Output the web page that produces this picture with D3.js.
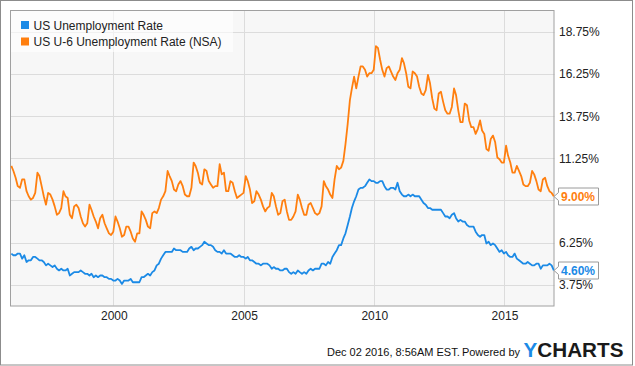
<!DOCTYPE html>
<html>
<head>
<meta charset="utf-8">
<script src="https://cdn.jsdelivr.net/npm/d3@7"></script>
<style>
    body { margin: 0; background: #fff; }
    text { font-family: "Liberation Sans", Arial, sans-serif; }
</style>
</head>
<body>
<svg id="chart" width="635" height="366"></svg>
<script>
const startYear = 1996

// US Unemployment Rate (SA), monthly Jan 1996 - Nov 2016
const unrate = [
    5.6, 5.5, 5.5, 5.6, 5.6, 5.3, 5.5, 5.1, 5.2, 5.2, 5.4, 5.4,
    5.3, 5.2, 5.2, 5.1, 4.9, 5.0, 4.9, 4.8, 4.9, 4.7, 4.6, 4.7,
    4.6, 4.6, 4.7, 4.3, 4.4, 4.5, 4.5, 4.5, 4.6, 4.5, 4.4, 4.4,
    4.3, 4.4, 4.2, 4.3, 4.2, 4.3, 4.3, 4.2, 4.2, 4.1, 4.1, 4.0,
    4.0, 4.1, 4.0, 3.8, 4.0, 4.0, 4.0, 4.1, 3.9, 3.9, 3.9, 3.9,
    4.2, 4.2, 4.3, 4.4, 4.3, 4.5, 4.6, 4.9, 5.0, 5.3, 5.5, 5.7,
    5.7, 5.7, 5.7, 5.9, 5.8, 5.8, 5.8, 5.7, 5.7, 5.7, 5.9, 6.0,
    5.8, 5.9, 5.9, 6.0, 6.1, 6.3, 6.2, 6.1, 6.1, 6.0, 5.8, 5.7,
    5.7, 5.6, 5.8, 5.6, 5.6, 5.6, 5.5, 5.4, 5.4, 5.5, 5.4, 5.4,
    5.3, 5.4, 5.2, 5.2, 5.1, 5.0, 5.0, 4.9, 5.0, 5.0, 5.0, 4.9,
    4.7, 4.8, 4.7, 4.7, 4.6, 4.6, 4.7, 4.7, 4.5, 4.4, 4.5, 4.4,
    4.6, 4.5, 4.4, 4.5, 4.4, 4.6, 4.7, 4.6, 4.7, 4.7, 4.7, 5.0,
    5.0, 4.9, 5.1, 5.0, 5.4, 5.6, 5.8, 6.1, 6.1, 6.5, 6.8, 7.3,
    7.8, 8.3, 8.7, 9.0, 9.4, 9.5, 9.5, 9.6, 9.8, 10.0, 9.9, 9.9,
    9.8, 9.8, 9.9, 9.9, 9.6, 9.4, 9.4, 9.5, 9.5, 9.4, 9.8, 9.3,
    9.1, 9.0, 9.0, 9.1, 9.0, 9.1, 9.0, 9.0, 9.0, 8.8, 8.6, 8.5,
    8.3, 8.3, 8.2, 8.2, 8.2, 8.2, 8.2, 8.0, 7.8, 7.8, 7.7, 7.9,
    8.0, 7.7, 7.5, 7.6, 7.5, 7.5, 7.3, 7.2, 7.2, 7.2, 6.9, 6.7,
    6.6, 6.7, 6.7, 6.2, 6.3, 6.1, 6.2, 6.1, 5.9, 5.7, 5.8, 5.6,
    5.7, 5.5, 5.4, 5.4, 5.6, 5.3, 5.2, 5.1, 5.0, 5.0, 5.1, 5.0,
    4.9, 4.9, 5.0, 5.0, 4.7, 4.9, 4.9, 4.9, 5.0, 4.9, 4.6
]

// US U-6 Unemployment Rate (NSA), monthly Jan 1996 - Nov 2016
const u6nsa = [
    10.8, 10.5, 10.1, 9.6, 9.5, 10.0, 10.0, 9.3, 9.0, 8.8, 8.9, 9.2,
    10.4, 10.2, 9.6, 9.0, 8.5, 9.2, 9.1, 8.8, 8.4, 7.9, 8.0, 8.3,
    9.3, 9.0, 8.9, 7.9, 7.7, 8.4, 8.5, 8.3, 7.8, 7.4, 7.2, 7.4,
    8.5, 8.2, 7.8, 7.5, 7.1, 7.7, 7.9, 7.4, 7.1, 6.8, 6.7, 6.9,
    7.8, 7.5, 7.1, 6.6, 6.7, 7.2, 7.2, 6.9, 6.5, 6.3, 6.8, 6.8,
    8.1, 7.9, 7.6, 7.2, 7.1, 8.0, 8.1, 8.0, 8.3, 8.8, 9.0, 9.3,
    10.5, 10.2, 9.9, 9.4, 9.3, 9.7, 9.9, 9.6, 9.1, 9.0, 9.0, 9.5,
    11.0, 10.8, 10.4, 9.8, 9.7, 10.6, 10.5, 9.9, 9.7, 9.5, 9.6, 9.6,
    10.9, 10.3, 10.4, 9.3, 9.3, 9.9, 9.8, 9.3, 8.9, 9.0, 9.1, 9.2,
    10.2, 9.9, 9.4, 8.6, 8.7, 9.3, 9.1, 8.8, 8.4, 8.1, 8.3, 8.4,
    9.2, 9.0, 8.4, 7.9, 8.0, 8.7, 8.8, 8.1, 7.6, 7.6, 7.8, 8.1,
    9.1, 8.8, 8.3, 7.9, 7.9, 8.5, 8.6, 8.3, 8.0, 7.9, 8.0, 8.4,
    9.9, 9.6, 9.4, 9.1, 8.9, 10.0, 10.8, 10.6, 10.7, 11.1, 12.1, 13.3,
    14.7, 15.4, 16.1, 15.4, 16.1, 16.7, 16.7, 16.5, 16.1, 16.3, 16.3, 16.5,
    17.9, 17.8, 17.1, 16.5, 16.1, 16.6, 16.7, 16.4, 16.1, 15.9, 16.3, 16.5,
    17.2, 16.9, 16.3, 15.5, 15.4, 16.4, 16.3, 16.1, 15.5, 15.1, 15.0, 15.3,
    16.2, 15.7, 14.8, 14.2, 14.1, 15.1, 15.2, 14.6, 14.1, 13.9, 13.9, 14.3,
    15.4, 15.0, 14.1, 13.4, 13.4, 14.5, 14.4, 13.5, 13.1, 13.1, 12.7, 13.0,
    13.5, 12.9, 12.7, 11.8, 11.7, 12.4, 12.6, 12.2, 11.3, 11.2, 11.0, 11.0,
    12.0, 11.4, 11.0, 10.4, 10.4, 10.8, 10.5, 10.2, 9.7, 9.6, 9.6, 9.8,
    10.5, 10.3, 9.9, 9.4, 9.3, 10.0, 10.1, 9.6, 9.3, 9.2, 9.0
]

const seriesNames = ["US Unemployment Rate", "US U-6 Unemployment Rate (NSA)"]
const yTicks = [3.75, 6.25, 8.75, 11.25, 13.75, 16.25, 18.75]
// 8.75% sits under the 9.00% value box, so it gets a grid line but no label
const yTickLabels = [3.75, 6.25, 11.25, 13.75, 16.25, 18.75]
const xTickYears = [2000, 2005, 2010, 2015]

const blue = "#1b8ae6"
const orange = "#ff7f0f"
const gridColor = "#dcdcdc"

const width = 635,
    height = 366
const plot = { left: 10, top: 10, right: 554.5, bottom: 305.5 }

const svg = d3.select("#chart")

// month end dates
const dates = unrate.map((d, i) => new Date(startYear, i + 1, 0))

const x = d3.scaleTime()
    .domain([new Date(1996, 0, 12), new Date(2016, 11, 10)])
    .range([plot.left, plot.right])

const y = d3.scaleLinear()
    .domain([2.52, 20.05])
    .range([plot.bottom, plot.top])

// outer frame
svg.append("rect")
    .attr("x", 0.5).attr("y", 0.5)
    .attr("width", width - 3).attr("height", height - 1.5)
    .attr("fill", "#fff")
    .attr("stroke", "#8c8c8c")

svg.append("rect")
    .attr("x", plot.left + 0.5).attr("y", plot.top + 0.5)
    .attr("width", plot.right - plot.left - 1).attr("height", plot.bottom - plot.top)
    .attr("fill", "#f7f7f7")

// grid
svg.append("g")
    .selectAll("line")
    .data(yTicks)
    .enter()
    .append("line")
    .attr("x1", plot.left).attr("x2", plot.right)
    .attr("y1", d => Math.round(y(d)) + 0.5)
    .attr("y2", d => Math.round(y(d)) + 0.5)
    .attr("stroke", gridColor)

svg.append("g")
    .selectAll("line")
    .data(xTickYears)
    .enter()
    .append("line")
    .attr("x1", d => Math.round(x(new Date(d, 0, 1))) + 0.5)
    .attr("x2", d => Math.round(x(new Date(d, 0, 1))) + 0.5)
    .attr("y1", plot.top).attr("y2", plot.bottom)
    .attr("stroke", gridColor)

// plot border
svg.append("rect")
    .attr("x", plot.left + 0.5).attr("y", plot.top + 0.5)
    .attr("width", plot.right - plot.left - 1).attr("height", plot.bottom - plot.top)
    .attr("fill", "none")
    .attr("stroke", "#a0a0a0")

svg.append("clipPath")
    .attr("id", "clip")
    .append("rect")
    .attr("x", plot.left).attr("y", plot.top)
    .attr("width", plot.right - plot.left).attr("height", plot.bottom - plot.top)

const line = d3.line()
    .x((d, i) => x(dates[i]))
    .y(d => y(d))

const lines = svg.append("g").attr("clip-path", "url(#clip)")
lines.append("path")
    .datum(unrate)
    .attr("d", line)
    .attr("fill", "none")
    .attr("stroke", blue)
    .attr("stroke-width", 1.8)
    .attr("stroke-linejoin", "round")
lines.append("path")
    .datum(u6nsa)
    .attr("d", line)
    .attr("fill", "none")
    .attr("stroke", orange)
    .attr("stroke-width", 1.8)
    .attr("stroke-linejoin", "round")

// right axis
const yAxis = d3.axisRight(y)
    .tickValues(yTickLabels)
    .tickFormat(d => d3.format(".2f")(d) + "%")
    .tickSize(0)
    .tickPadding(5)
const ga = svg.append("g")
    .attr("transform", `translate(${plot.right - 0.5}, 0)`)
    .call(yAxis)
ga.select(".domain").remove()
ga.selectAll("text")
    .attr("font-size", 12)
    .attr("fill", "#222")
    .style("font-family", "'Liberation Sans', Arial, sans-serif")

// bottom axis
const xAxis = d3.axisBottom(x)
    .tickValues(xTickYears.map(d => new Date(d, 0, 1)))
    .tickFormat(d3.timeFormat("%Y"))
    .tickSize(0)
    .tickPadding(6)
const gx = svg.append("g")
    .attr("transform", `translate(0.5, ${plot.bottom})`)
    .call(xAxis)
gx.select(".domain").remove()
gx.selectAll("text")
    .attr("font-size", 12)
    .attr("fill", "#222")
    .style("font-family", "'Liberation Sans', Arial, sans-serif")

// last value labels
const lastVals = [
    { v: unrate[unrate.length - 1], color: blue },
    { v: u6nsa[u6nsa.length - 1], color: orange }
]
lastVals.forEach(d => {
    const yc = Math.round(y(d.v)) + 0.5
    const x0 = plot.right - 0.5, bx = x0 + 4.5, bw = 40, bh = 17
    svg.append("path")
        .attr("d", `M${x0},${yc} L${bx},${yc - 4} L${bx},${yc - bh / 2} L${bx + bw},${yc - bh / 2}
                    L${bx + bw},${yc + bh / 2} L${bx},${yc + bh / 2} L${bx},${yc + 4} Z`)
        .attr("fill", "#fff")
        .attr("stroke", "#9a9a9a")
    svg.append("text")
        .attr("x", bx + 2.5)
        .attr("y", yc + 4.5)
        .attr("font-size", 12)
        .attr("font-weight", "bold")
        .attr("fill", d.color)
        .text(d3.format(".2f")(d.v) + "%")
})

// legend
const legend = svg.append("g")
legend.append("rect")
    .attr("x", 11).attr("y", 11)
    .attr("width", 222).attr("height", 41)
    .attr("fill", "#fff")
    .attr("fill-opacity", 0.6)
seriesNames.forEach((name, i) => {
    legend.append("rect")
        .attr("x", 21).attr("y", 21 + i * 16.5)
        .attr("width", 8).attr("height", 8)
        .attr("fill", i === 0 ? blue : orange)
    legend.append("text")
        .attr("x", 33.5).attr("y", 29.5 + i * 16.5)
        .attr("font-size", 12)
        .attr("fill", "#222")
        .text(name)
})

// footer
svg.append("text")
    .attr("x", 327).attr("y", 356)
    .attr("font-size", 11)
    .attr("fill", "#111")
    .text("Dec 02 2016, 8:56AM EST.")
svg.append("text")
    .attr("x", 520).attr("y", 356)
    .attr("text-anchor", "end")
    .attr("font-size", 11)
    .attr("fill", "#111")
    .text("Powered by")
const logo = svg.append("text")
    .attr("x", 523.5).attr("y", 356.5)
    .attr("font-size", 20)
    .attr("font-weight", "bold")
    .attr("textLength", 100)
    .attr("lengthAdjust", "spacingAndGlyphs")
logo.append("tspan").attr("fill", blue).text("Y")
logo.append("tspan").attr("fill", "#1a1a1a").text("CHARTS")
</script>
</body>
</html>
